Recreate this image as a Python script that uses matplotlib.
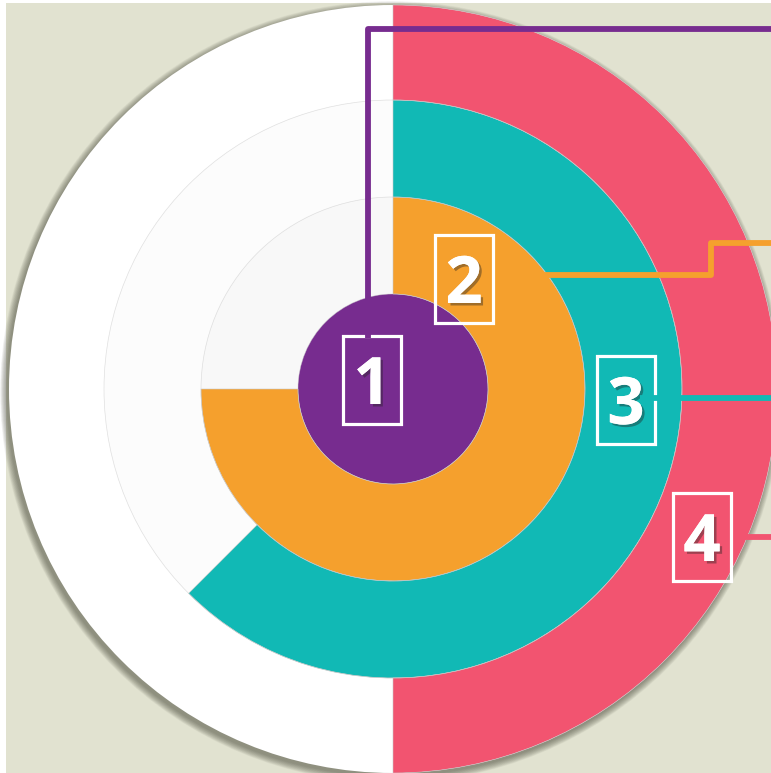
import matplotlib
matplotlib.use('Agg')
import matplotlib.pyplot as plt
from matplotlib.patches import Wedge, Circle, Rectangle
import matplotlib.patheffects as pe

# ---- data ----
labels = ['1', '2', '3', '4']
values = [100, 75, 62.5, 50]          # percent of full circle, inner -> outer
colors = ['#772C8F', '#F5A02D', '#11B9B5', '#F25470']
track_colors = ['#F6F6F6', '#F8F8F8', '#FCFCFC', '#FFFFFF']

# ---- layout ----
W, H = 771, 773
cx, cy = 393, 389
radii = [0, 95, 192, 289, 384]
label_pos = [(372, 380), (464, 279), (626, 400), (702, 537)]
box_w, box_h = 58, 88
leader_lines = [
    [(368, 338), (368, 29), (W + 5, 29)],
    [(520, 274.5), (711, 274.5), (711, 242.5), (W + 5, 242.5)],
    [(640, 398), (W + 5, 398)],
    [(740, 537), (W + 5, 537)],
]

fig = plt.figure(figsize=(W / 100, H / 100), dpi=100)
fig.patch.set_facecolor('white')
ax = fig.add_axes([0, 0, 1, 1])
ax.set_xlim(0, W)
ax.set_ylim(H, 0)
ax.set_aspect('equal')
ax.axis('off')

# background
ax.add_patch(Rectangle((6, 3), W, H, facecolor='#E1E2D0', edgecolor='none', zorder=0))

# soft shadow of the outer disc
R = radii[-1]
for i in range(12):
    ax.add_patch(Circle((cx - 2, cy + 3), R + 0.2 + i * 0.6, facecolor='#4A4B3C',
                        edgecolor='none', alpha=0.06, zorder=1))

# tracks (outer first)
for k in range(len(values) - 1, -1, -1):
    ax.add_patch(Circle((cx, cy), radii[k + 1], facecolor=track_colors[k],
                        edgecolor='none', zorder=2))

# value rings
for k, (v, c) in enumerate(zip(values, colors)):
    r_in, r_out = radii[k], radii[k + 1]
    if v >= 100:
        ax.add_patch(Circle((cx, cy), r_out, facecolor=c, edgecolor='none', zorder=3))
    else:
        ax.add_patch(Wedge((cx, cy), r_out, -90, -90 + 360 * v / 100,
                           width=r_out - r_in, facecolor=c,
                           edgecolor='#C8C8C8', linewidth=0.4, zorder=3))

# thin ring separators
for r in radii[1:-1]:
    ax.add_patch(Circle((cx, cy), r, facecolor='none', edgecolor='#C8C8C8',
                        linewidth=0.5, alpha=0.55, zorder=4))

# label boxes + digits
for lab, (x, y) in zip(labels, label_pos):
    ax.add_patch(Rectangle((x - box_w / 2, y - box_h / 2), box_w, box_h,
                           facecolor='none', edgecolor='white', linewidth=2.3, zorder=5))
    ax.text(x, y + 24, lab, color='white', fontsize=47, fontfamily='Open Sans',
            fontweight='bold', ha='center', va='baseline', zorder=6,
            path_effects=[pe.withSimplePatchShadow(offset=(1.8, -1.8),
                                                  shadow_rgbFace='#222222', alpha=0.4),
                          pe.Normal()])

# leader lines
for pts, c in zip(leader_lines, colors):
    xs = [p[0] for p in pts]
    ys = [p[1] for p in pts]
    ax.plot(xs, ys, color=c, linewidth=4.2, solid_joinstyle='round',
            solid_capstyle='butt', zorder=7)

fig.savefig('out.png', dpi=100, facecolor=fig.get_facecolor())
